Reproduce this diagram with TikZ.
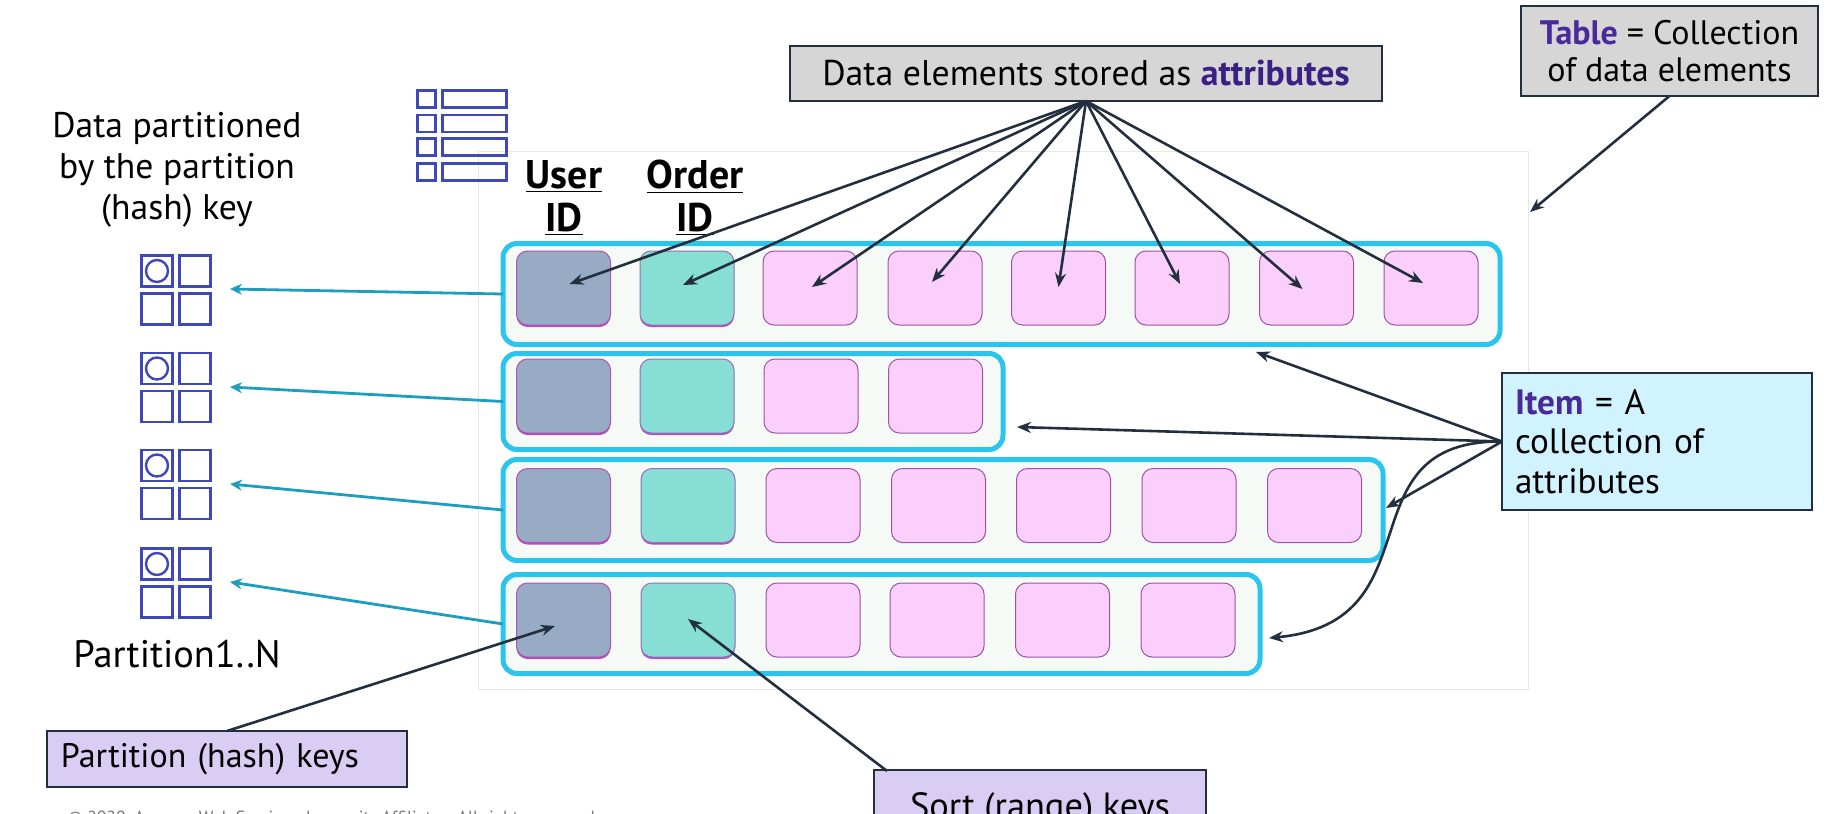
\documentclass[tikz,border=0pt]{standalone}
\usepackage{fontspec}
\setmainfont{PT Sans}
\usetikzlibrary{arrows.meta,shadows}
\definecolor{icon}{HTML}{3F48B8}
\definecolor{tealline}{HTML}{1D9EBF}
\definecolor{darkline}{HTML}{232F3E}
\definecolor{cyanline}{HTML}{29C5EC}
\definecolor{purpletext}{HTML}{4A2A9A}
\definecolor{attrtext}{HTML}{3A1F85}
\definecolor{attrline}{HTML}{A050A8}
\definecolor{attrfill}{HTML}{FACFFC}
\definecolor{hashline}{HTML}{B050B8}
\definecolor{hashfill}{HTML}{98ABC4}
\definecolor{sortline}{HTML}{966EBE}
\definecolor{sortfill}{HTML}{86DED4}
\definecolor{itemfill}{HTML}{F5FAF6}
\definecolor{framegrey}{HTML}{E8E8E8}
\definecolor{greynote}{HTML}{D6D6D6}
\definecolor{bluenote}{HTML}{D0F3FF}
\definecolor{purplenote}{HTML}{D9CDF4}
\definecolor{copytext}{HTML}{787878}
\tikzset{
    cell/.style = {draw=#1, rounded corners=5.5pt, minimum width=47pt, minimum height=37pt, inner sep=0pt, outer sep=0pt, line width=0.5pt},
    attrcell/.style = {cell=attrline, fill=attrfill},
    hashcell/.style = {cell=hashline, fill=hashfill, general shadow={fill=hashline, shadow yshift=-1pt}},
    sortcell/.style = {cell=sortline, fill=sortfill, general shadow={fill=hashline, shadow yshift=-1pt}},
    itembox/.style = {draw=cyanline, fill=itemfill, line width=2.5pt, rounded corners=7pt, inner sep=0pt, outer sep=0pt},
    iconcell/.style = {draw=icon, line width=1.4pt, minimum width=15.5pt, minimum height=15.5pt, inner sep=0pt, outer sep=0pt},
    rowicon/.style = {draw=icon, line width=1.4pt, minimum height=8.5pt, inner sep=0pt, outer sep=0pt},
    notebox/.style = {draw=darkline, line width=0.8pt, inner sep=0pt, outer sep=0pt},
    plain/.style = {align=center, inner sep=0pt, font=\fontsize{17.8}{20.5}\selectfont},
    keyhead/.style = {align=center, inner sep=0pt, font=\fontsize{20}{21.5}\selectfont\bfseries},
    darkarrow/.style = {draw=darkline, line width=1.3pt, -{Stealth[length=7pt,width=5.5pt]}},
    tealarrow/.style = {draw=tealline, line width=1.4pt, -{Stealth[length=6pt,width=5.5pt]}},
}
\begin{document}
\begin{tikzpicture}[x=0.5pt, y=-0.5pt, font=\fontsize{17}{20}\selectfont]
        \clip (0,0) rectangle (1833,814);
        \node[draw=framegrey, line width=0.5pt, minimum width=525pt, minimum height=269pt, inner sep=0pt] (frame) at (1003.5,420) {};
        % table icon
        \foreach \n/\y in {1/99,2/123.5,3/147,4/172}{
            \node[rowicon, minimum width=9pt] (rs\n) at (426.5,\y) {};
            \node[rowicon, minimum width=32pt] (rb\n) at (474.5,\y) {};
        }
        % partition icons
        \foreach \n/\y/\ty in {1/290/289,2/387.5/387,3/484.5/484,4/583/582}{
            \node[iconcell] (pa\n) at (157,\y-19) {};
            \node[iconcell] (pb\n) at (195,\y-19) {};
            \node[iconcell] (pc\n) at (157,\y+19) {};
            \node[iconcell] (pd\n) at (195,\y+19) {};
            \node[draw=icon, line width=1.2pt, circle, minimum size=11pt, inner sep=0pt] (pk\n) at (pa\n) {};
            \coordinate (t\n) at (230,\ty);
        }
        % items
        \foreach \n/\x/\y/\w/\h in {1/1001.5/294/997/101,2/753/401.5/500/96,3/943/510/880/101,4/881.5/624/757/99}{
            \node[itembox, minimum width=\w*0.5pt, minimum height=\h*0.5pt] (i\n) at (\x,\y) {};
            \draw[tealarrow] (i\n.west) -- (t\n);
        }
        \foreach \n/\y in {1/288,2/396,3/505.5,4/620}{
            \node[hashcell] (u\n) at (563.5,\y) {};
        }
        \foreach \n/\y/\x in {1/288/687,2/396/687,3/505.5/688,4/620/688}{
            \node[sortcell] (o\n) at (\x,\y) {};
        }
        \foreach \x [count=\c] in {810,935,1058.5,1182,1306.5,1431}{
            \node[attrcell] (a\c) at (\x,288) {};
        }
        \foreach \x [count=\c] in {811,935.5}{
            \node[attrcell] (b\c) at (\x,396) {};
        }
        \foreach \x [count=\c] in {813,938.5,1063.5,1189,1314.5}{
            \node[attrcell] (c\c) at (\x,505.5) {};
        }
        \foreach \x [count=\c] in {813,937,1062.5,1188}{
            \node[attrcell] (d\c) at (\x,620) {};
        }
        % labels
        \node[plain] (parted) at (177,169.5) {Data partitioned\\by the partition\\(hash) key};
        \node[keyhead] (userid) at (564,198) {\underline{User}\\\underline{ID}};
        \node[keyhead] (orderid) at (695,198) {\underline{Order}\\\underline{ID}};
        \node[plain, font=\fontsize{19.2}{21}\selectfont] (partn) at (177,654) {Partition1..N};
        % boxes
        \node[notebox, fill=greynote, minimum width=296pt, minimum height=27.5pt, font=\fontsize{17.9}{20}\selectfont] (attr) at (1086,73.5) {Data elements stored as \textcolor{attrtext}{\textbf{attributes}}};
        \node[notebox, fill=greynote, minimum width=148.5pt, minimum height=45pt, align=center, font=\fontsize{17}{18.5}\selectfont] (table) at (1669.5,51) {\textcolor{purpletext}{\textbf{Table}} = Collection\\of data elements};
        \node[notebox, fill=bluenote, minimum height=68.5pt, text width=142pt, inner xsep=6.5pt, align=left, font=\fontsize{17.6}{19.8}\selectfont] (item) at (1657,441.5) {\textcolor{purpletext}{\textbf{Item}} = A\\collection of\\attributes};
        \node[notebox, fill=purplenote, minimum width=180pt, minimum height=28pt, text width=166pt, inner xsep=7pt, align=left] (hashkeys) at (227,759) {Partition (hash) keys};
        \node[notebox, fill=purplenote, minimum width=166pt, minimum height=40pt, font=\fontsize{18.2}{20}\selectfont] (sortkeys) at (1040,810) {Sort (range) keys};
        \node[inner sep=0pt, text=copytext, font=\fontsize{8.8}{10}\selectfont, anchor=north west] (copy) at (68,811) {© 2020, Amazon Web Services, Inc. or its Affiliates. All rights reserved.};
        % arrows
        \foreach \c/\dx/\dy in {u1/6/-4,o1/-4/-3,a1/2/-1,a2/-3/-6,a3/0/-1,a4/-2/-4,a5/-4/1,a6/-8/-5}{
            \draw[darkarrow] (attr.south) -- ([xshift=\dx*0.5pt,yshift=-\dy*0.5pt]\c.center);
        }
        \coordinate (tabletip) at (1530,212);
        \coordinate (i1tip) at (1256,352);
        \coordinate (i2tip) at (1017,427);
        \coordinate (i3tip) at (1386,508);
        \coordinate (i4tip) at (1269,638);
        \coordinate (hashtip) at (555,626);
        \coordinate (sorttip) at (688,619);
        \coordinate (sortfoot) at (887,771);
        \draw[darkarrow] (table.south) -- (tabletip);
        \draw[darkarrow] (item.west) -- (i1tip);
        \draw[darkarrow] (item.west) -- (i2tip);
        \draw[darkarrow] (item.west) -- (i3tip);
        \draw[darkarrow] (item.west) .. controls (1340,440) and (1440,622) .. (i4tip);
        \draw[darkarrow] (hashkeys.north) -- (hashtip);
        \draw[darkarrow] (sortfoot) -- (sorttip);
    \end{tikzpicture}
\end{document}
